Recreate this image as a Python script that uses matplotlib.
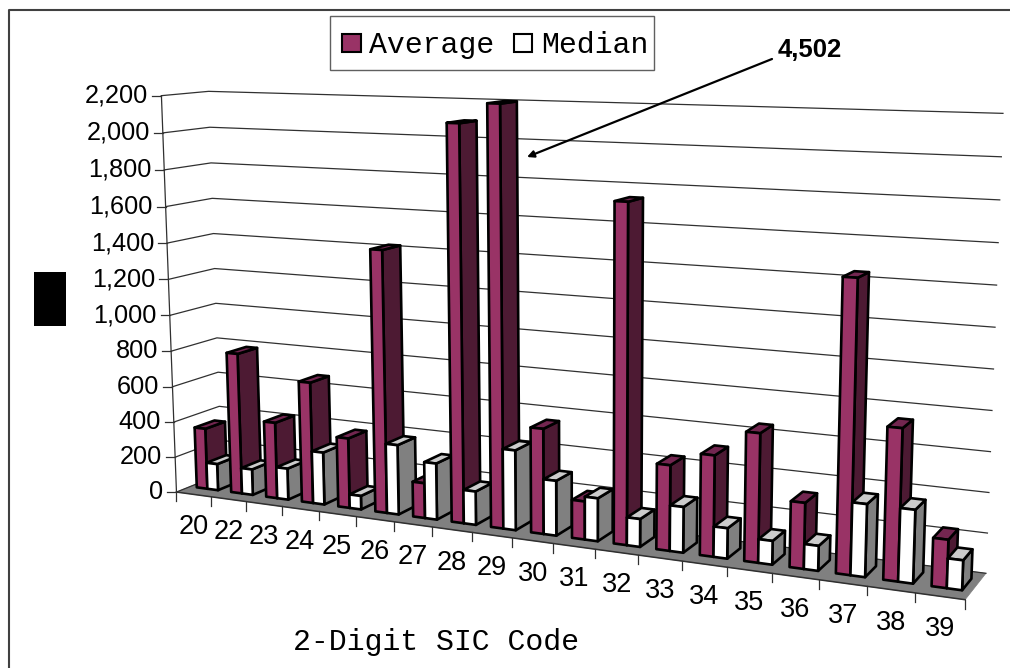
"""
Excel-style 3D clustered columns: average and median by 2-digit SIC code.

The box (floor and walls) is mapped onto the page with a perspective matrix
fitted to eight corners, so all bars go through the same projection.
"""

import numpy as np
import matplotlib
matplotlib.use("Agg")
import matplotlib.pyplot as plt
from matplotlib.patches import Polygon, Rectangle

sic_codes = ["20", "22", "23", "24", "25", "26", "27", "28", "29",
             "30", "31", "32", "33", "34", "35", "36", "37", "38", "39"]
average = [345, 790, 425, 670, 385, 1420, 190, 2095, 2200,
           555, 200, 1740, 440, 515, 650, 330, 1440, 745, 235]
median = [150, 145, 175, 290, 75, 380, 305, 180, 425,
          290, 225, 145, 235, 155, 120, 125, 360, 360, 145]
y_ticks = list(range(0, 2201, 200))

V_MAX = 2200
N = len(sic_codes)

# (category position, value, depth) -> page pixel, for the box corners
corners_3d = [(0, 0, 0), (0, V_MAX, 0), (0, 0, 1), (0, V_MAX, 1),
              (N, 0, 1), (N, V_MAX, 1), (N, 0, 0), (N, V_MAX, 0)]
corners_px = [(176, 493), (162, 95), (222, 473), (208, 92),
              (986, 574), (1003, 113), (965, 599), (982, 120)]


def fit_camera(pts3, pts2):
    """Least-squares 3x4 projection matrix from point pairs (DLT)."""
    rows, rhs = [], []
    for (x, y, z), (u, v) in zip(pts3, pts2):
        rows.append([x, y, z, 1, 0, 0, 0, 0, -u * x, -u * y, -u * z])
        rows.append([0, 0, 0, 0, x, y, z, 1, -v * x, -v * y, -v * z])
        rhs += [u, v]
    p = np.linalg.lstsq(np.array(rows, float), np.array(rhs, float), rcond=None)[0]
    return np.append(p, 1.0).reshape(3, 4)


CAM = fit_camera(corners_3d, corners_px)


def proj(x, y, z):
    h = CAM @ np.array([x, y, z, 1.0])
    return h[0] / h[2], h[1] / h[2]


def draw_bar(ax, x0, x1, value, colors):
    """One column: side, top and front faces."""
    z0, z1 = 0.30, 0.74
    front, side, top = colors
    faces = [
        ([(x1, 0, z0), (x1, 0, z1), (x1, value, z1), (x1, value, z0)], side),
        ([(x0, value, z0), (x1, value, z0), (x1, value, z1), (x0, value, z1)], top),
        ([(x0, 0, z0), (x1, 0, z0), (x1, value, z0), (x0, value, z0)], front),
    ]
    for pts, c in faces:
        ax.add_patch(Polygon([proj(*p) for p in pts], closed=True, fc=c, ec="black",
                             lw=1.9, joinstyle="round", zorder=3))


fig = plt.figure(figsize=(10.10, 6.68), dpi=100)
ax = fig.add_axes([0, 0, 1, 1])
ax.set_xlim(0, 1010)
ax.set_ylim(668, 0)
ax.axis("off")

# ── Outer frame and the blacked-out axis title ────────────────────────────────
ax.plot([8.5, 8.5, 1010], [668, 9.5, 9.5], color="#404040", lw=1.5)
ax.add_patch(Rectangle((34, 272), 32, 54, fc="black", ec="none"))

# ── Floor, grid and axes ──────────────────────────────────────────────────────
floor = [proj(0, 0, 0), proj(0, 0, 1), proj(N, 0, 1), proj(N, 0, 0)]
ax.add_patch(Polygon(floor, closed=True, fc="#808080", ec="#808080", lw=0.5, zorder=1))

for v in y_ticks:
    line = [proj(0, v, 0), proj(0, v, 1), proj(N, v, 1)]
    ax.plot(*zip(*line), color="#303030", lw=0.9, zorder=2)
    px, py = proj(0, v, 0)
    ax.plot([px - 9, px], [py, py], color="#303030", lw=0.9, zorder=2)
    ax.text(px - 13, py, f"{v:,}", ha="right", va="center", fontsize=18.2,
            family="Liberation Sans", color="black")

ax.plot(*zip(proj(0, 0, 0), proj(0, V_MAX, 0)), color="#303030", lw=0.9, zorder=2)
ax.plot(*zip(proj(0, 0, 0), proj(N, 0, 0)), color="#303030", lw=1.1, zorder=2)

for i in range(N + 1):
    px, py = proj(i, 0, 0)
    ax.plot([px, px], [py, py + 9], color="#303030", lw=0.9, zorder=2)

for i, code in enumerate(sic_codes):
    px, py = proj(i + 0.5, 0, 0)
    ax.text(px, py + 33, code, ha="center", va="center", fontsize=19.5,
            family="Liberation Sans", color="black")

# ── Columns ───────────────────────────────────────────────────────────────────
avg_colors = ("#993366", "#4d1a33", "#732650")
med_colors = ("#ffffff", "#808080", "#cccccc")
for i in range(N):
    draw_bar(ax, i + 0.19, i + 0.5, min(average[i], V_MAX), avg_colors)
    draw_bar(ax, i + 0.5, i + 0.81, min(median[i], V_MAX), med_colors)

# ── Legend, axis title, callout ───────────────────────────────────────────────
ax.add_patch(Rectangle((330, 15.5), 324, 54.5, fc="white", ec="#606060", lw=1, zorder=4))
ax.add_patch(Rectangle((342, 33.5), 19, 18, fc="#993366", ec="black", lw=1.5, zorder=5))
ax.add_patch(Rectangle((514, 33.5), 18, 18, fc="white", ec="black", lw=1.5, zorder=5))
ax.text(369, 45, "Average", ha="left", va="center", fontsize=21.5,
        family="Liberation Mono", zorder=5)
ax.text(541, 45, "Median", ha="left", va="center", fontsize=21.5,
        family="Liberation Mono", zorder=5)
ax.text(436, 642, "2-Digit SIC Code", ha="center", va="center", fontsize=21.5,
        family="Liberation Mono")

ax.text(778, 50, "4,502", ha="left", va="center", fontsize=18.5, fontweight="bold",
        family="Liberation Sans")
ax.annotate("", xy=(527, 157), xytext=(772, 59), zorder=5,
            arrowprops=dict(arrowstyle="-|>", color="black", lw=1.6, mutation_scale=10,
                            shrinkA=0, shrinkB=0))

fig.savefig("out.png", dpi=100)
plt.close(fig)
